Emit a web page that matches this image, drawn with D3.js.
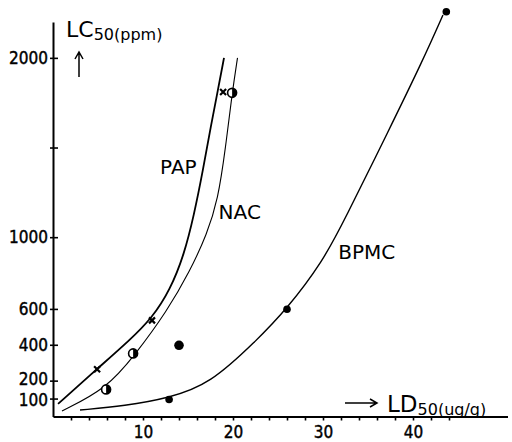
<!DOCTYPE html>
<html>
<head>
<meta charset="utf-8">
<script src="https://cdnjs.cloudflare.com/ajax/libs/d3/7.8.5/d3.min.js"></script>
<style>
  body { margin: 0; background: #fff; }
  svg { display: block; }
  .tick text { font-family: "DejaVu Sans Condensed", "DejaVu Sans", sans-serif; font-stretch: condensed; }
</style>
</head>
<body>
<svg id="chart" width="512" height="442"></svg>
<script>
// LD50 (ug/g) vs LC50 (ppm)
var papCurve = [[0.56, 70], [4.89, 265], [8.56, 427], [11.0, 549], [13.0, 705], [14.56, 901], [15.67, 1124],
  [16.67, 1375], [17.56, 1626], [18.33, 1821], [19.0, 2000]];
var nacCurve = [[1.0, 31], [5.89, 153], [9.11, 343], [12.67, 588], [15.22, 811], [17.11, 1018], [18.33, 1208],
  [19.17, 1497], [19.89, 1799], [20.5, 2000]];
var bpmcCurve = [[3.0, 36], [8.0, 59], [12.89, 103], [17.44, 181], [22.56, 421], [26.0, 600], [30.0, 867],
  [32.33, 1090], [37.33, 1598], [41.11, 1988], [43.33, 2239]];

var papPoints = [[4.9, 263], [11, 536], [18.9, 1810]];
var nacPoints = [[5.9, 151], [8.9, 352], [19.9, 1805]];
var bpmcPoints = [[12.9, 95], [26, 598], [43.7, 2257]];
var extraPoints = [[14, 397]];

var curveLabels = [
  { name: "PAP", x: 11.9, y: 1350 },
  { name: "NAC", x: 18.4, y: 1100 },
  { name: "BPMC", x: 31.7, y: 880 }
];

var xTicks = d3.range(2, 45, 2);
var xLabelled = [10, 20, 30, 40];
var yTicks = [100, 200, 400, 600, 1000, 1500, 2000];
var yLabelled = [100, 200, 400, 600, 1000, 2000];

var svg = d3.select("#chart");
var x = d3.scaleLinear().domain([0, 50.5]).range([53, 507.5]);
var y = d3.scaleLinear().domain([0, 2200]).range([416.5, 22]);

var xAxis = d3.axisBottom(x)
  .tickValues(xTicks)
  .tickSizeInner(4)
  .tickSizeOuter(0)
  .tickPadding(5)
  .tickFormat(function (d) { return xLabelled.indexOf(d) >= 0 ? d : ""; });

var yAxis = d3.axisLeft(y)
  .tickValues(yTicks)
  .tickSizeInner(3)
  .tickSizeOuter(0)
  .tickPadding(2)
  .tickFormat(function (d) { return yLabelled.indexOf(d) >= 0 ? d : ""; });

var gx = svg.append("g")
  .attr("transform", "translate(0," + y(0) + ")")
  .call(xAxis);
var gy = svg.append("g")
  .attr("transform", "translate(" + x(0) + ",0)")
  .call(yAxis);

[gx, gy].forEach(function (g) {
  g.select(".domain").attr("stroke", "#000").attr("stroke-width", 2);
  g.selectAll(".tick line").attr("stroke", "#000").attr("stroke-width", 1.6);
  g.selectAll(".tick text").attr("fill", "#000").attr("font-size", 17)
    .attr("stroke", "#000").attr("stroke-width", 0.4);
});
// y ticks cross the axis line
gy.selectAll(".tick line").attr("x1", 5).attr("x2", -3);
// the two lowest labels sit very close, spread them a little
gy.selectAll(".tick text")
  .attr("y", function (d) { return d === 200 ? -1.5 : d === 100 ? 1.5 : 0; });

var line = d3.line()
  .x(function (d) { return x(d[0]); })
  .y(function (d) { return y(d[1]); })
  .curve(d3.curveBasis);

svg.append("path").datum(papCurve).attr("d", line)
  .attr("fill", "none").attr("stroke", "#000").attr("stroke-width", 1.8);
svg.append("path").datum(nacCurve).attr("d", line)
  .attr("fill", "none").attr("stroke", "#000").attr("stroke-width", 1.1);
svg.append("path").datum(bpmcCurve).attr("d", line)
  .attr("fill", "none").attr("stroke", "#000").attr("stroke-width", 1.4);

// PAP: small crosses
svg.selectAll(".pap").data(papPoints).enter().append("path")
  .attr("class", "pap")
  .attr("transform", function (d) { return "translate(" + x(d[0]) + "," + y(d[1]) + ")"; })
  .attr("d", "M-3,-3L3,3M-3,3L3,-3")
  .attr("stroke", "#000").attr("stroke-width", 2.2);

// NAC: half filled circles
var nac = svg.selectAll(".nac").data(nacPoints).enter().append("g")
  .attr("class", "nac")
  .attr("transform", function (d) { return "translate(" + x(d[0]) + "," + y(d[1]) + ")"; });
nac.append("circle").attr("r", 4.5).attr("fill", "#fff").attr("stroke", "#000").attr("stroke-width", 1.6);
nac.append("path").attr("d", d3.arc()({ innerRadius: 0, outerRadius: 4.5, startAngle: 0, endAngle: Math.PI }))
  .attr("fill", "#000");

// BPMC: filled dots
svg.selectAll(".bpmc").data(bpmcPoints).enter().append("circle")
  .attr("class", "bpmc")
  .attr("cx", function (d) { return x(d[0]); })
  .attr("cy", function (d) { return y(d[1]); })
  .attr("r", 3.8).attr("fill", "#000");

svg.selectAll(".extra").data(extraPoints).enter().append("circle")
  .attr("cx", function (d) { return x(d[0]); })
  .attr("cy", function (d) { return y(d[1]); })
  .attr("r", 4.8).attr("fill", "#000");

svg.selectAll(".clabel").data(curveLabels).enter().append("text")
  .attr("x", function (d) { return x(d.x); })
  .attr("y", function (d) { return y(d.y); })
  .attr("font-family", "DejaVu Sans, sans-serif")
  .attr("font-size", 20)
  .attr("fill", "#000")
  .text(function (d) { return d.name; });

// axis titles
var ty = svg.append("text").attr("x", 66).attr("y", 37)
  .attr("font-family", "DejaVu Sans, sans-serif").attr("fill", "#000");
ty.append("tspan").attr("font-size", 22).text("LC");
ty.append("tspan").attr("font-size", 16).attr("dy", 3).text("50(ppm)");

var tx = svg.append("text").attr("x", 387).attr("y", 412)
  .attr("font-family", "DejaVu Sans, sans-serif").attr("fill", "#000");
tx.append("tspan").attr("font-size", 23).text("LD");
tx.append("tspan").attr("font-size", 16).attr("dy", 3).text("50(ug/g)");

// direction arrows
svg.append("path").attr("d", "M79,77L79,53M75,59L79,52L83,59")
  .attr("fill", "none").attr("stroke", "#000").attr("stroke-width", 1.5);
svg.append("path").attr("d", "M345,403L376,403M370,399L377,403L370,407")
  .attr("fill", "none").attr("stroke", "#000").attr("stroke-width", 1.5);
</script>
</body>
</html>
